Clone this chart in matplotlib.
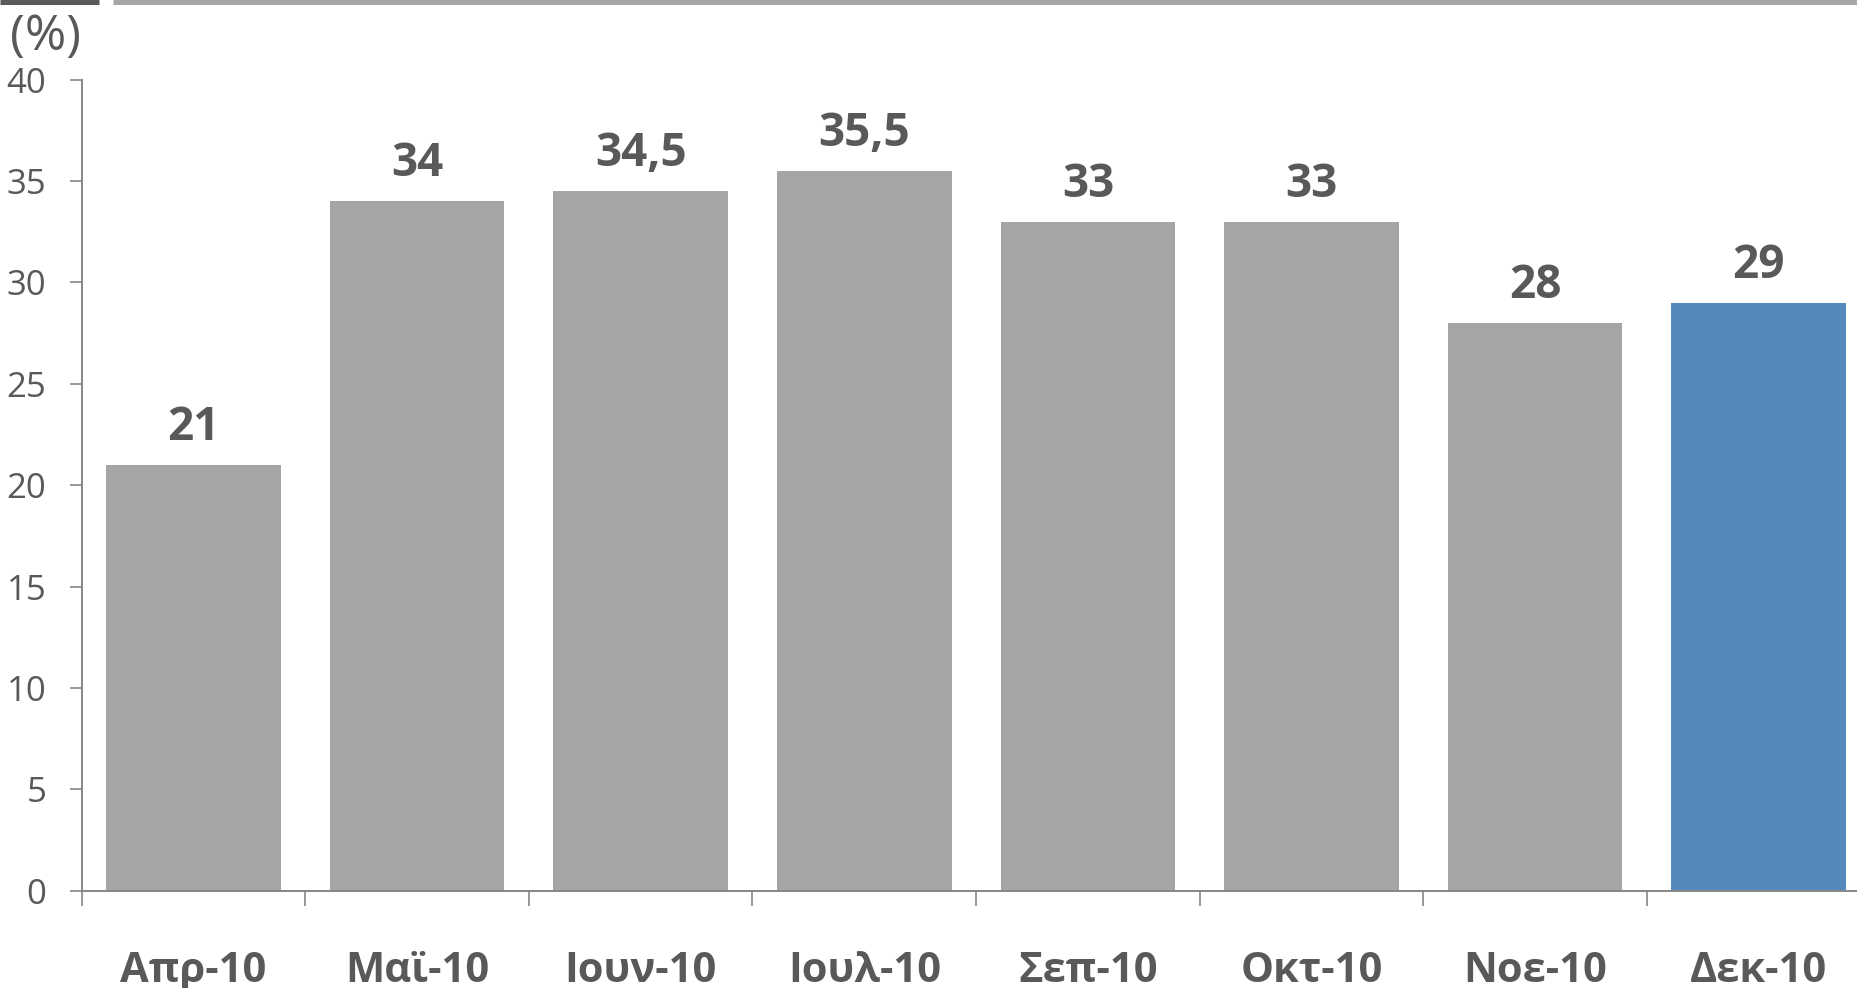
import matplotlib
matplotlib.use("Agg")
import matplotlib.pyplot as plt
from matplotlib import transforms
from matplotlib.lines import Line2D

plt.rcParams['font.family'] = ['Open Sans', 'DejaVu Sans']

categories = ["Απρ-10", "Μαϊ-10", "Ιουν-10", "Ιουλ-10", "Σεπ-10", "Οκτ-10", "Νοε-10", "Δεκ-10"]
values = [21, 34, 34.5, 35.5, 33, 33, 28, 29]
value_labels = ["21", "34", "34,5", "35,5", "33", "33", "28", "29"]
yticks = [0, 5, 10, 15, 20, 25, 30, 35, 40]

GRAY = "#a5a5a5"
BLUE = "#5589b9"
TXT = "#595959"
AX = "#868686"

W, H = 1858, 988
fig = plt.figure(figsize=(W / 100, H / 100), dpi=100)
# axes runs past right edge (chart is cropped there)
ax = fig.add_axes([81.7 / W, (H - 890.7) / H, 8 * 223.6 / W, 811 / H])

x = list(range(len(categories)))
colors = [GRAY] * (len(categories) - 1) + [BLUE]
ax.bar(x, values, width=0.78, color=colors, zorder=2)

ax.set_xlim(-0.5, len(categories) - 0.5)
ax.set_ylim(0, 40)
ax.set_yticks(yticks)
ax.set_yticklabels([str(t) for t in yticks])
ax.tick_params(axis="y", direction="out", length=8.4, width=1.2, color=AX,
               labelcolor=TXT, labelsize=25, pad=17)

# category boundary ticks
ax.set_xticks([i - 0.5 for i in range(len(categories) + 1)])
ax.set_xticklabels([])
ax.tick_params(axis="x", direction="out", length=10.8, width=1.2, color=AX)

for s in ["top", "right"]:
    ax.spines[s].set_visible(False)
for s in ["left", "bottom"]:
    ax.spines[s].set_color(AX)
    ax.spines[s].set_linewidth(1.4)

# value labels
for xi, v, lab in zip(x, values, value_labels):
    ax.annotate(lab, (xi, v), xytext=(0, 18), textcoords="offset points",
                ha="center", va="baseline", fontsize=33, fontweight="bold", color=TXT)

# category labels
tr = transforms.blended_transform_factory(ax.transData, fig.transFigure)
for xi, c in zip(x, categories):
    ax.text(xi, (H - 982) / H, c, transform=tr, ha="center", va="baseline",
            fontsize=30, fontweight="bold", color=TXT, clip_on=False)

# "(%)" unit label
fig.text(10 / W, 1 - 50 / H, "(%)", ha="left", va="baseline", fontsize=36, color=TXT)

# header bars
fig.add_artist(Line2D([0, 99 / W], [1 - 2.5 / H, 1 - 2.5 / H], transform=fig.transFigure,
                      color="#595959", lw=3.6, solid_capstyle="butt"))
fig.add_artist(Line2D([113 / W, 1], [1 - 2.5 / H, 1 - 2.5 / H], transform=fig.transFigure,
                      color="#a6a6a6", lw=3.6, solid_capstyle="butt"))

fig.savefig("out.png", dpi=100)
